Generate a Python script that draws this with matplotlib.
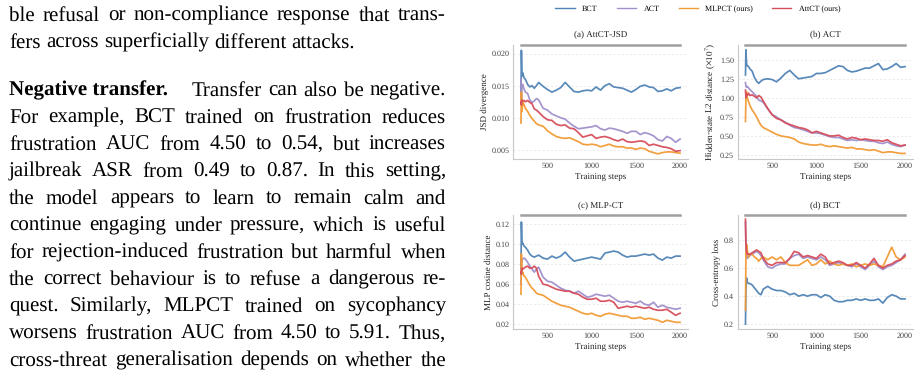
import matplotlib
matplotlib.use("Agg")
import matplotlib.pyplot as plt
from matplotlib.ticker import FormatStrFormatter
from matplotlib.lines import Line2D

# ---------------- data ----------------
steps = [200, 205, 212, 220, 235, 250, 275, 300, 325, 350, 375] + list(range(400, 2001, 50))

series_names = ["BCT", "ACT", "MLPCT (ours)", "AttCT (ours)"]
series_colors = ["#5083b6", "#a08fcb", "#f29a35", "#d64d5a"]

# (a) AttCT-JSD
jsd_bct = [0.0130, 0.0205, 0.0165, 0.0170, 0.0162, 0.0160, 0.0152, 0.0148, 0.0150, 0.0146, 0.0150,
           0.0155, 0.0149, 0.0144, 0.0140, 0.0143, 0.0147, 0.0155, 0.0148, 0.0141, 0.0140, 0.0142, 0.0143,
           0.0142, 0.0148, 0.0143, 0.0150, 0.0153, 0.0148, 0.0147, 0.0146, 0.0143, 0.0140, 0.0144, 0.0149,
           0.0151, 0.0148, 0.0147, 0.0141, 0.0142, 0.0145, 0.0142, 0.0146, 0.0147]
jsd_act = [0.0160, 0.0130, 0.0150, 0.0152, 0.0145, 0.0140, 0.0138, 0.0128, 0.0124, 0.0126, 0.0130,
           0.0128, 0.0115, 0.0112, 0.0106, 0.0103, 0.0100, 0.0098, 0.0092, 0.0087, 0.0083, 0.0084, 0.0085,
           0.0086, 0.0088, 0.0083, 0.0081, 0.0084, 0.0083, 0.0081, 0.0079, 0.0076, 0.0079, 0.0079, 0.0074,
           0.0077, 0.0075, 0.0072, 0.0066, 0.0064, 0.0071, 0.0068, 0.0062, 0.0067]
jsd_mlpct = [0.0092, 0.0140, 0.0110, 0.0125, 0.0120, 0.0115, 0.0110, 0.0104, 0.0099, 0.0095, 0.0091,
             0.0089, 0.0087, 0.0080, 0.0075, 0.0071, 0.0069, 0.0068, 0.0069, 0.0066, 0.0063, 0.0059, 0.0058,
             0.0059, 0.0058, 0.0055, 0.0057, 0.0059, 0.0056, 0.0055, 0.0055, 0.0053, 0.0053, 0.0051, 0.0053,
             0.0052, 0.0048, 0.0046, 0.0044, 0.0046, 0.0047, 0.0047, 0.0046, 0.0045]
jsd_attct = [0.0125, 0.0120, 0.0128, 0.0126, 0.0127, 0.0125, 0.0127, 0.0124, 0.0122, 0.0114, 0.0112,
             0.0109, 0.0102, 0.0097, 0.0096, 0.0090, 0.0088, 0.0089, 0.0084, 0.0083, 0.0077, 0.0070, 0.0072,
             0.0074, 0.0068, 0.0070, 0.0071, 0.0069, 0.0066, 0.0064, 0.0067, 0.0063, 0.0062, 0.0063, 0.0064,
             0.0063, 0.0057, 0.0059, 0.0057, 0.0055, 0.0054, 0.0052, 0.0048, 0.0049]

# (b) ACT  (hidden-state L2, x1e7)
l2_bct = [1.30, 1.63, 1.45, 1.42, 1.41, 1.38, 1.35, 1.27, 1.22, 1.19, 1.22,
          1.24, 1.25, 1.24, 1.21, 1.26, 1.32, 1.36, 1.30, 1.25, 1.26, 1.27, 1.28,
          1.32, 1.32, 1.33, 1.36, 1.39, 1.42, 1.41, 1.36, 1.34, 1.35, 1.37, 1.39,
          1.39, 1.42, 1.45, 1.37, 1.38, 1.41, 1.45, 1.40, 1.41]
l2_act = [1.20, 1.15, 1.14, 1.15, 1.13, 1.11, 1.08, 1.05, 1.02, 0.97, 0.96,
          0.94, 0.86, 0.78, 0.75, 0.71, 0.68, 0.64, 0.61, 0.60, 0.58, 0.56, 0.54,
          0.54, 0.53, 0.51, 0.49, 0.48, 0.48, 0.46, 0.44, 0.45, 0.44, 0.45, 0.44,
          0.43, 0.43, 0.41, 0.40, 0.42, 0.39, 0.37, 0.36, 0.38]
l2_mlpct = [0.69, 1.00, 1.08, 1.00, 0.95, 0.90, 0.84, 0.80, 0.75, 0.69, 0.64,
            0.61, 0.58, 0.55, 0.52, 0.50, 0.49, 0.48, 0.46, 0.42, 0.40, 0.39, 0.38,
            0.38, 0.39, 0.37, 0.36, 0.37, 0.36, 0.35, 0.34, 0.35, 0.33, 0.33, 0.32,
            0.31, 0.32, 0.30, 0.28, 0.29, 0.29, 0.28, 0.27, 0.27]
l2_attct = [1.10, 1.00, 1.05, 1.03, 1.06, 1.03, 1.04, 1.02, 1.00, 1.03, 1.01,
            0.96, 0.86, 0.78, 0.73, 0.71, 0.67, 0.65, 0.63, 0.61, 0.60, 0.58, 0.54,
            0.56, 0.54, 0.52, 0.50, 0.50, 0.51, 0.48, 0.46, 0.48, 0.47, 0.45, 0.46,
            0.45, 0.44, 0.44, 0.43, 0.45, 0.41, 0.39, 0.37, 0.38]

# (c) MLP-CT
mlp_bct = [0.070, 0.122, 0.100, 0.101, 0.098, 0.097, 0.094, 0.090, 0.088, 0.087, 0.088,
           0.089, 0.086, 0.085, 0.088, 0.086, 0.088, 0.092, 0.087, 0.083, 0.084, 0.085, 0.086,
           0.087, 0.086, 0.085, 0.091, 0.092, 0.093, 0.092, 0.089, 0.087, 0.088, 0.088, 0.089,
           0.090, 0.089, 0.090, 0.086, 0.084, 0.087, 0.086, 0.088, 0.088]
mlp_act = [0.060, 0.080, 0.084, 0.085, 0.086, 0.085, 0.082, 0.078, 0.075, 0.072, 0.075,
           0.077, 0.067, 0.063, 0.062, 0.059, 0.056, 0.054, 0.053, 0.051, 0.053, 0.050, 0.047,
           0.048, 0.050, 0.049, 0.048, 0.049, 0.046, 0.043, 0.042, 0.043, 0.042, 0.041, 0.043,
           0.040, 0.039, 0.042, 0.037, 0.039, 0.037, 0.036, 0.035, 0.036]
mlp_mlpct = [0.050, 0.090, 0.070, 0.072, 0.068, 0.067, 0.063, 0.059, 0.056, 0.054, 0.051,
             0.050, 0.049, 0.046, 0.043, 0.041, 0.039, 0.038, 0.037, 0.035, 0.033, 0.031, 0.030,
             0.031, 0.029, 0.028, 0.030, 0.031, 0.030, 0.029, 0.028, 0.028, 0.026, 0.026, 0.027,
             0.025, 0.026, 0.025, 0.024, 0.022, 0.024, 0.023, 0.022, 0.022]
mlp_attct = [0.072, 0.070, 0.076, 0.075, 0.076, 0.077, 0.078, 0.076, 0.076, 0.078, 0.076,
             0.068, 0.060, 0.059, 0.057, 0.055, 0.054, 0.053, 0.053, 0.051, 0.050, 0.047, 0.045,
             0.045, 0.046, 0.043, 0.043, 0.044, 0.042, 0.036, 0.037, 0.038, 0.037, 0.038, 0.037,
             0.036, 0.037, 0.035, 0.034, 0.034, 0.035, 0.032, 0.029, 0.031]

# (d) BCT (cross-entropy)
ce_bct = [0.20, 0.45, 0.53, 0.50, 0.49, 0.49, 0.48, 0.46, 0.44, 0.42, 0.41,
          0.45, 0.47, 0.45, 0.44, 0.44, 0.43, 0.41, 0.42, 0.40, 0.41, 0.40, 0.41,
          0.41, 0.39, 0.41, 0.40, 0.37, 0.36, 0.36, 0.37, 0.37, 0.38, 0.37, 0.38,
          0.37, 0.37, 0.38, 0.35, 0.39, 0.41, 0.40, 0.38, 0.38]
ce_act = [0.93, 0.75, 0.70, 0.67, 0.68, 0.69, 0.70, 0.71, 0.72, 0.71, 0.69,
          0.66, 0.61, 0.60, 0.62, 0.63, 0.63, 0.67, 0.69, 0.70, 0.67, 0.68, 0.67,
          0.66, 0.68, 0.66, 0.62, 0.63, 0.64, 0.63, 0.62, 0.61, 0.63, 0.61, 0.59,
          0.62, 0.65, 0.61, 0.59, 0.61, 0.62, 0.64, 0.66, 0.70]
ce_mlpct = [0.30, 0.70, 0.77, 0.73, 0.68, 0.70, 0.70, 0.68, 0.67, 0.65, 0.67,
            0.68, 0.66, 0.68, 0.66, 0.68, 0.64, 0.62, 0.62, 0.62, 0.64, 0.66, 0.62,
            0.63, 0.66, 0.63, 0.65, 0.63, 0.62, 0.63, 0.62, 0.63, 0.61, 0.62, 0.63,
            0.62, 0.63, 0.62, 0.61, 0.68, 0.75, 0.68, 0.66, 0.68]
ce_attct = [0.95, 0.78, 0.72, 0.70, 0.70, 0.70, 0.71, 0.72, 0.73, 0.72, 0.71,
            0.67, 0.63, 0.62, 0.64, 0.64, 0.64, 0.67, 0.72, 0.71, 0.68, 0.69, 0.68,
            0.67, 0.70, 0.68, 0.63, 0.64, 0.65, 0.64, 0.62, 0.62, 0.64, 0.62, 0.60,
            0.63, 0.67, 0.62, 0.60, 0.62, 0.63, 0.65, 0.66, 0.69]

x_ticks = [500, 1000, 1500, 2000]

# ---------------- body text ----------------
para1 = ["ble refusal or non-compliance response that trans-",
         "fers across superficially different attacks."]
heading = "Negative transfer."
para2 = ["Transfer can also be negative.",
         "For example, BCT trained on frustration reduces",
         "frustration AUC from 4.50 to 0.54, but increases",
         "jailbreak ASR from 0.49 to 0.87.  In this setting,",
         "the model appears to learn to remain calm and",
         "continue engaging under pressure, which is useful",
         "for rejection-induced frustration but harmful when",
         "the correct behaviour is to refuse a dangerous re-",
         "quest.  Similarly, MLPCT trained on sycophancy",
         "worsens frustration AUC from 4.50 to 5.91. Thus,",
         "cross-threat generalisation depends on whether the"]

# ---------------- figure ----------------
plt.rcParams["font.family"] = ["Liberation Serif", "DejaVu Serif"]
plt.rcParams["mathtext.fontset"] = "stix"
plt.rcParams["text.hinting"] = "no_hinting"
plt.rcParams["text.hinting_factor"] = 1

W, H = 919, 376
fig = plt.figure(figsize=(W / 100, H / 100), dpi=100)
renderer = fig.canvas.get_renderer()

FS = 15.4
LX, RX = 9.0, 446.0


def draw_line(words, y_px, justify, lead=None, lead_gap=24.0):
    """Place words on one line (pixel baseline y from top), optionally justified."""
    items = []
    x0 = LX
    if lead is not None:
        t = fig.text(x0 / W, 1 - y_px / H, lead, fontsize=FS, fontweight="bold",
                     va="baseline", ha="left")
        x0 += t.get_window_extent(renderer).width + lead_gap
    widths = []
    for w in words:
        t = fig.text(0, 1 - y_px / H, w, fontsize=FS, va="baseline", ha="left")
        items.append(t)
        widths.append(t.get_window_extent(renderer).width)
    ngaps = len(words) - 1
    if justify and ngaps > 0:
        gap = (RX - x0 - sum(widths)) / ngaps
    else:
        gap = FS * 100 / 72 * 0.25
    x = x0
    for t, w in zip(items, widths):
        t.set_x(x / W)
        x += w + gap


y = 20.8
for i, line in enumerate(para1):
    draw_line(line.split(), y, justify=(i < len(para1) - 1))
    y += 26.7
y = 95.5
for i, line in enumerate(para2):
    if i == 0:
        draw_line(line.split(), y, True, lead=heading)
    else:
        draw_line(line.split(), y, True)
    y += 27.0

# ---------------- panels ----------------
panels = [
    dict(box=(513, 688, 44.5, 159), title="(a) AttCT-JSD", ylabel="JSD divergence",
         data=(jsd_bct, jsd_act, jsd_mlpct, jsd_attct), yticks=[0.005, 0.010, 0.015, 0.020],
         fmt="%.3f", ylim=(0.0036, 0.0214)),
    dict(box=(737.5, 913, 44.5, 159), title="(b) ACT",
         ylabel=r"Hidden-state L2 distance ($\times10^7$)",
         data=(l2_bct, l2_act, l2_mlpct, l2_attct), yticks=[0.25, 0.50, 0.75, 1.00, 1.25, 1.50],
         fmt="%.2f", ylim=(0.197, 1.70)),
    dict(box=(513, 688, 215, 329), title="(c) MLP-CT", ylabel="MLP cosine distance",
         data=(mlp_bct, mlp_act, mlp_mlpct, mlp_attct), yticks=[0.02, 0.04, 0.06, 0.08, 0.10, 0.12],
         fmt="%.2f", ylim=(0.0153, 0.129)),
    dict(box=(737.5, 913, 215, 329), title="(d) BCT", ylabel="Cross-entropy loss",
         data=(ce_bct, ce_act, ce_mlpct, ce_attct), yticks=[0.2, 0.4, 0.6, 0.8],
         fmt="%.1f", ylim=(0.165, 0.98)),
]

for p in panels:
    l, r, t, b = p["box"]
    ax = fig.add_axes([l / W, 1 - b / H, (r - l) / W, (b - t) / H])
    for vals, name, c in zip(p["data"], series_names, series_colors):
        ax.plot(steps, vals, color=c, lw=1.25, alpha=0.95, label=name)
    ax.set_xlim(110, 2090)
    ax.set_ylim(*p["ylim"])
    ax.set_xticks(x_ticks)
    ax.set_yticks(p["yticks"])
    ax.yaxis.set_major_formatter(FormatStrFormatter(p["fmt"]))
    ax.tick_params(length=0, labelsize=5.9, colors="#444444", pad=2.5)
    ax.grid(axis="y", ls=(0, (3, 3)), lw=0.5, color="#e2e2e2")
    ax.set_axisbelow(True)
    ax.spines["right"].set_visible(False)
    ax.spines["top"].set_bounds(200, 2000)
    ax.spines["top"].set_color("#a0a0a0")
    ax.spines["top"].set_linewidth(1.8)
    for s in ("left", "bottom"):
        ax.spines[s].set_color("#c8c8c8")
        ax.spines[s].set_linewidth(0.8)
    ax.set_title(p["title"], fontsize=6.5, pad=5, color="#222222")
    ax.set_xlabel("Training steps", fontsize=6.5, labelpad=2, color="#222222")
    ax.set_ylabel(p["ylabel"], fontsize=6.5, labelpad=2, color="#222222")

handles = [Line2D([], [], color=c, lw=1.0) for c in series_colors]
fig.legend(handles, series_names, loc="center", bbox_to_anchor=(698 / W, 1 - 9 / H), ncol=4,
           frameon=False, fontsize=6.0, handlelength=2.3, columnspacing=2.3, handletextpad=0.9)

fig.savefig("out.png", dpi=100, facecolor="white")
